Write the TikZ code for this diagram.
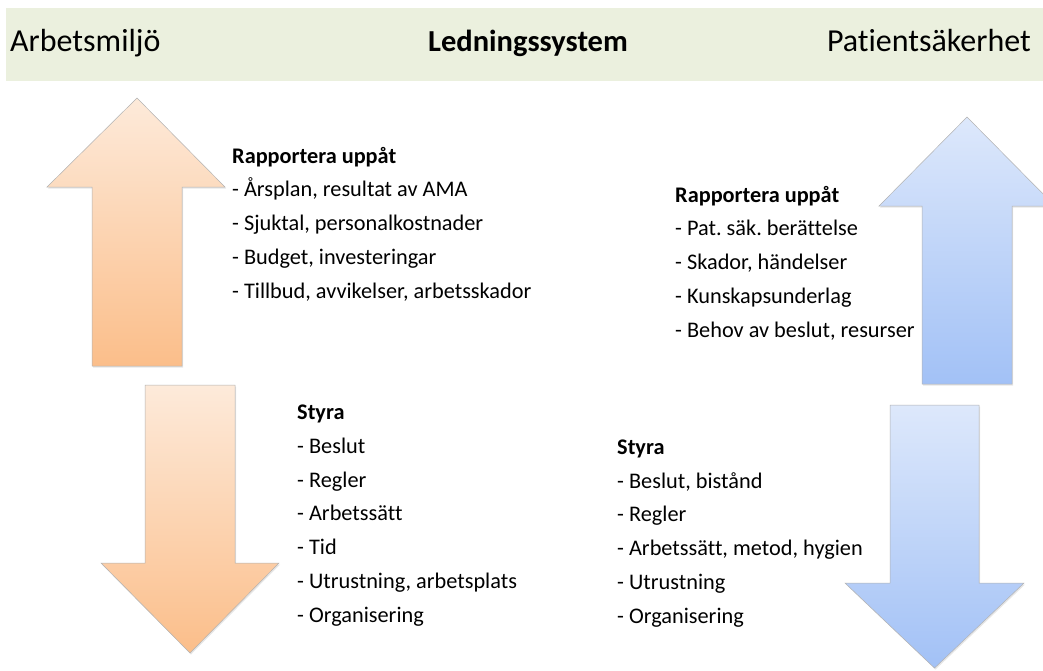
\documentclass[tikz,border=0pt]{standalone}
\usepackage{fontspec}
\setmainfont{Carlito}[Ligatures={NoCommon}]
\frenchspacing
\usetikzlibrary{shadows,positioning}
\definecolor{headbg}{RGB}{235,240,222}
\definecolor{orangetop}{RGB}{253,234,218}
\definecolor{orangebot}{RGB}{251,190,138}
\definecolor{bluetop}{RGB}{221,232,251}
\definecolor{bluebot}{RGB}{162,193,246}
\tikzset{head text/.style={inner sep=0pt,font=\fontsize{32}{36}\selectfont},
         list text/.style={inner sep=0pt,align=left,anchor=base west,font=\fontsize{22.3}{33.7}\selectfont},
         big arrow/.style={draw=black!30,line width=0.5pt,
                           drop shadow={opacity=0.2,shadow xshift=1pt,shadow yshift=-1.5pt}},
         orange arrow/.style={big arrow,top color=orangetop,bottom color=orangebot},
         blue arrow/.style={big arrow,top color=bluetop,bottom color=bluebot},
}
\begin{document}
\begin{tikzpicture}[x=1pt,y=-1pt]
\useasboundingbox (0,0) rectangle (1043,670);
\clip (0,0) rectangle (1043,670);

% header bar
\fill[headbg] (6,8) rectangle (1043,81);
\node[head text, anchor=base west] (h_left) at (10,51) {Arbetsmiljö};
\node[head text, anchor=base, font=\fontsize{30.5}{36}\selectfont\bfseries] (h_mid) at (528,51) {Ledningssystem};
\node[head text, anchor=base east] (h_right) at (1031,51) {Patientsäkerhet};

% arbetsmiljo arrows
\path[orange arrow] (137,98) -- (225,187) -- (182,187) -- (182,366) -- (92,366) -- (92,187) -- (47,187) -- cycle;
\path[orange arrow] (145,385) -- (235,385) -- (235,563) -- (279,563) -- (190,653) -- (101,563) -- (145,563) -- cycle;

% patientsakerhet arrows
\path[blue arrow] (967,117) -- (1055,206) -- (1012,206) -- (1012,384) -- (922,384) -- (922,206) -- (879,206) -- cycle;
\path[blue arrow] (890,405) -- (979,405) -- (979,583) -- (1024,583) -- (934.5,668) -- (845,583) -- (890,583) -- cycle;

% texts (placed at the baseline of the last line)
\node[list text] (am_rep) at (232,298) {\textbf{Rapportera uppåt}\\
    - Årsplan, resultat av AMA\\
    - Sjuktal, personalkostnader\\
    - Budget, investeringar\\
    - Tillbud, avvikelser, arbetsskador};
\node[list text] (am_styr) at (297,622) {\textbf{Styra}\\
    - Beslut\\
    - Regler\\
    - Arbetssätt\\
    - Tid\\
    - Utrustning, arbetsplats\\
    - Organisering};
\node[list text] (ps_rep) at (675,337) {\textbf{Rapportera uppåt}\\
    - Pat. säk. berättelse\\
    - Skador, händelser\\
    - Kunskapsunderlag\\
    - Behov av beslut, resurser};
\node[list text] (ps_styr) at (617,623) {\textbf{Styra}\\
    - Beslut, bistånd\\
    - Regler\\
    - Arbetssätt, metod, hygien\\
    - Utrustning\\
    - Organisering};

\end{tikzpicture}
\end{document}
